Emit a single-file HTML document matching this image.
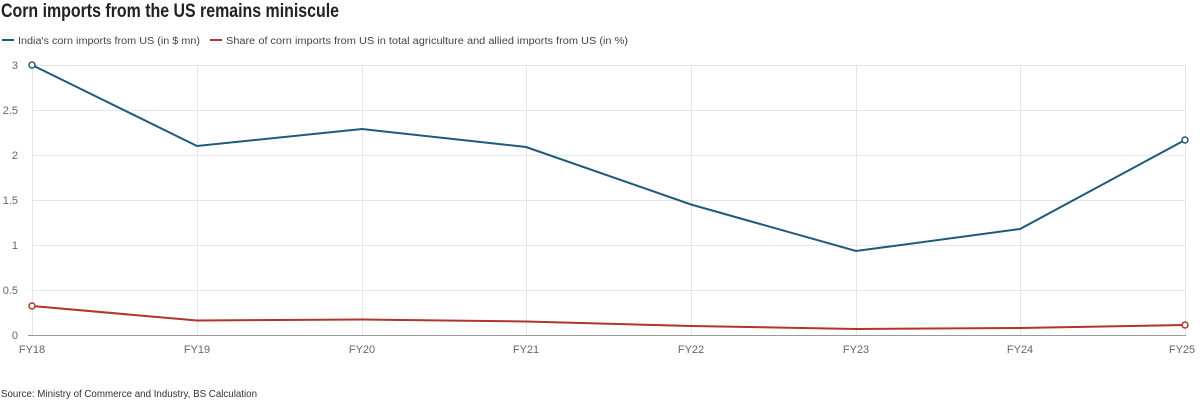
<!DOCTYPE html>
<html><head><meta charset="utf-8"><style>
body{margin:0;background:#fff;width:1200px;height:401px;overflow:hidden;font-family:"Liberation Sans",sans-serif;}
</style></head><body>
<svg width="1200" height="401" xmlns="http://www.w3.org/2000/svg" font-family="Liberation Sans, sans-serif">
<text x="1" y="17" font-size="19" font-weight="bold" fill="#222" textLength="338" lengthAdjust="spacingAndGlyphs">Corn imports from the US remains miniscule</text>
<line x1="2" y1="40" x2="14" y2="40" stroke="#1e5b7a" stroke-width="2"/>
<text x="18" y="44" font-size="10" fill="#444" textLength="182" lengthAdjust="spacingAndGlyphs">India's corn imports from US (in $ mn)</text>
<line x1="210" y1="40" x2="222" y2="40" stroke="#b0352a" stroke-width="2"/>
<text x="226" y="44" font-size="10" fill="#444" textLength="402" lengthAdjust="spacingAndGlyphs">Share of corn imports from US in total agriculture and allied imports from US (in %)</text>
<g stroke="#e6e6e6" stroke-width="1">
<line x1="32" y1="65.5" x2="1186" y2="65.5"/><line x1="32" y1="110.5" x2="1186" y2="110.5"/><line x1="32" y1="155.5" x2="1186" y2="155.5"/><line x1="32" y1="200.5" x2="1186" y2="200.5"/><line x1="32" y1="245.5" x2="1186" y2="245.5"/><line x1="32" y1="290.5" x2="1186" y2="290.5"/>
<line x1="32.5" y1="65" x2="32.5" y2="335"/><line x1="197.5" y1="65" x2="197.5" y2="335"/><line x1="362.5" y1="65" x2="362.5" y2="335"/><line x1="526.5" y1="65" x2="526.5" y2="335"/><line x1="691.5" y1="65" x2="691.5" y2="335"/><line x1="856.5" y1="65" x2="856.5" y2="335"/><line x1="1020.5" y1="65" x2="1020.5" y2="335"/><line x1="1185.5" y1="65" x2="1185.5" y2="335"/>
</g>
<line x1="28" y1="335.5" x2="1186" y2="335.5" stroke="#999"/>
<g font-size="11" fill="#666" text-anchor="end">
<text x="18" y="69">3</text><text x="18" y="114">2.5</text><text x="18" y="159">2</text><text x="18" y="204">1.5</text><text x="18" y="249">1</text><text x="18" y="294">0.5</text><text x="18" y="339">0</text>
</g>
<g font-size="11" fill="#666" text-anchor="middle">
<text x="32" y="353">FY18</text><text x="197" y="353">FY19</text><text x="362" y="353">FY20</text><text x="526" y="353">FY21</text><text x="691" y="353">FY22</text><text x="856" y="353">FY23</text><text x="1020" y="353">FY24</text><text x="1182" y="353">FY25</text>
</g>
<polyline fill="none" stroke="#1e5b7a" stroke-width="2" points="32,65 197,146 362,129 526,147 691,204.5 856,251 1020,229 1185,140"/>
<polyline fill="none" stroke="#b0352a" stroke-width="2" points="32,306 197,320.5 362,319.5 526,321.5 691,326 856,329 1020,328 1185,325"/>
<circle cx="32" cy="65" r="3" fill="#fff" stroke="#1e5b7a" stroke-width="1.5"/>
<circle cx="1185" cy="140" r="3" fill="#fff" stroke="#1e5b7a" stroke-width="1.5"/>
<circle cx="32" cy="306" r="3" fill="#fff" stroke="#b0352a" stroke-width="1.5"/>
<circle cx="1185" cy="325" r="3" fill="#fff" stroke="#b0352a" stroke-width="1.5"/>
<text x="1" y="397" font-size="10" fill="#333" textLength="256" lengthAdjust="spacingAndGlyphs">Source: Ministry of Commerce and Industry, BS Calculation</text>
</svg>
</body></html>
